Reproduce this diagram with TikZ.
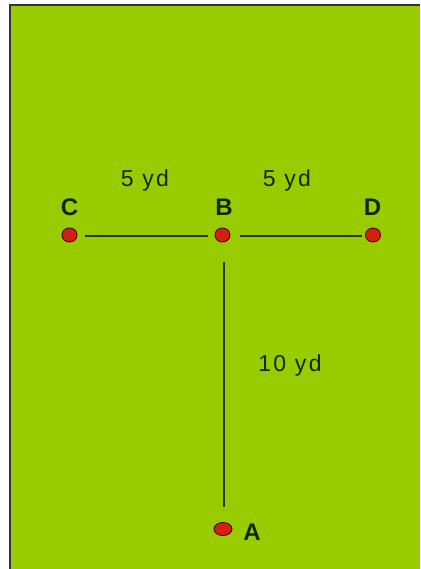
\documentclass[tikz,border=0pt]{standalone}
\usepackage{fontspec}
\usetikzlibrary{shapes.geometric}
\setmainfont{Liberation Sans}
\definecolor{field}{HTML}{99CC00}
\definecolor{edge}{HTML}{1E3A10}
\definecolor{dotred}{HTML}{D42010}
\definecolor{ink}{HTML}{102808}
\begin{document}
\begin{tikzpicture}[x=1pt,y=-1pt,
  pt/.style={ellipse,draw=black!70!red,line width=0.9pt,fill=dotred,minimum width=15pt,minimum height=14pt,inner sep=0pt},
  ptwide/.style={pt,minimum width=18pt,minimum height=13pt},
  lbl/.style={font=\fontsize{24}{26}\selectfont\bfseries,text=ink,inner sep=0pt},
  dist/.style={font=\fontsize{23}{25}\selectfont\addfontfeatures{LetterSpace=10},text=ink,inner sep=0pt},
  line/.style={draw=edge,line width=2pt}]
\useasboundingbox (0,0) rectangle (420,569);
\fill[white] (0,0) rectangle (420,569);
\fill[field] (10,5) rectangle (420,569);
\draw[black!80,line width=2pt] (10,569) -- (10,5) -- (420,5);
\node[pt] (C) at (69.5,235) {};
\node[pt] (B) at (222.5,235) {};
\node[pt] (D) at (373,235) {};
\node[ptwide] (A) at (223,529) {};
\node[lbl] (lC) at (69.5,207.5) {C};
\node[lbl] (lB) at (224,207) {B};
\node[lbl] (lD) at (372.5,207) {D};
\node[lbl] (lA) at (252,532) {A};
\node[dist] (dCB) at (145,181) {5 yd};
\node[dist] (dBD) at (287,181) {5 yd};
\node[dist] (dBA) at (290,366) {10 yd};
\coordinate (c1) at (85,236);
\coordinate (c2) at (208,236);
\coordinate (c3) at (240,236);
\coordinate (c4) at (362,236);
\coordinate (c5) at (224,262);
\coordinate (c6) at (224,507);
\draw[line] (c1) -- (c2);
\draw[line] (c3) -- (c4);
\draw[line] (c5) -- (c6);
\end{tikzpicture}
\end{document}
